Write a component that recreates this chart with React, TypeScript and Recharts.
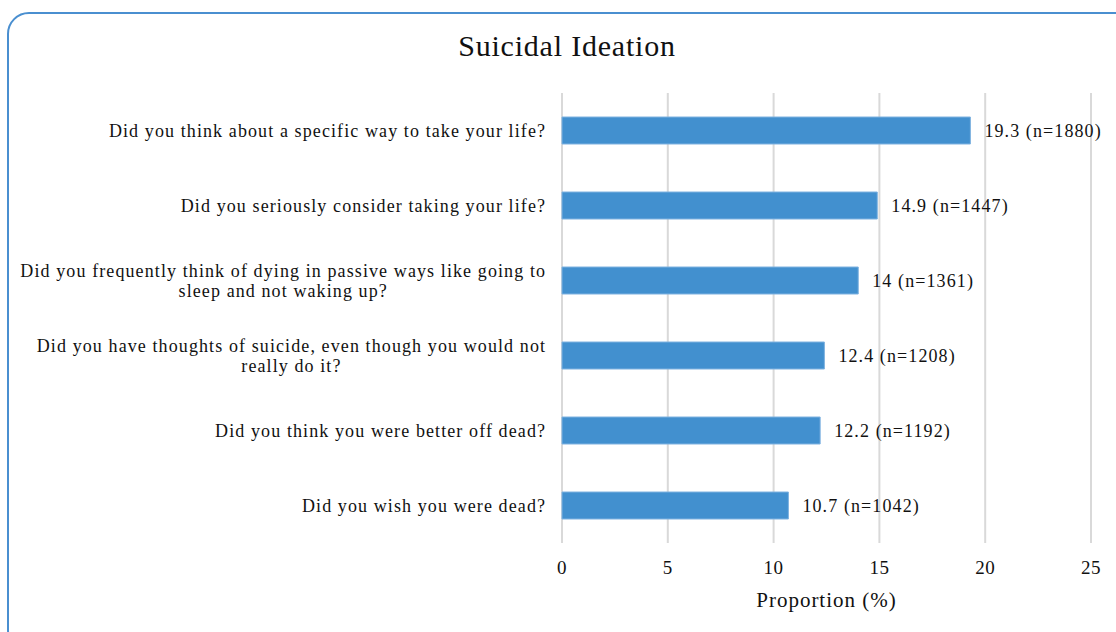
import * as React from 'react';
import { BarChart, Bar, XAxis, YAxis, CartesianGrid, LabelList } from 'recharts';

const questions: string[][] = [
    ['Did you think about a specific way to take your life?'],
    ['Did you seriously consider taking your life?'],
    ['Did you frequently think of dying in passive ways like going to', 'sleep and not waking up?'],
    ['Did you have thoughts of suicide, even though you would not', 'really do it?'],
    ['Did you think you were better off dead?'],
    ['Did you wish you were dead?'],
];
const proportions = [19.3, 14.9, 14, 12.4, 12.2, 10.7];
const counts = [1880, 1447, 1361, 1208, 1192, 1042];
const xTicks = [0, 5, 10, 15, 20, 25];

const data = questions.map((q, i) => ({
    name: q.join(' '),
    lines: q,
    value: proportions[i],
    label: `${proportions[i]} (n=${counts[i]})`,
}));

const FONT = '"Liberation Serif", "Times New Roman", serif';
const LABEL_SIZE = 18;
const SPACING = 1.1;

let ctx: CanvasRenderingContext2D | null = null;
const measure = (s: string) => {
    if (!ctx) ctx = document.createElement('canvas').getContext('2d');
    if (!ctx) return s.length * 8;
    ctx.font = `${LABEL_SIZE}px ${FONT}`;
    return ctx.measureText(s).width + s.length * SPACING;
};

const QuestionTick = (props: any) => {
    const { x, y, payload, index } = props;
    const lines = data[index]?.lines ?? [String(payload.value)];
    const right = x - 9 + SPACING;
    const lh = 20;
    const startY = y - ((lines.length - 1) * lh) / 2;
    const common = { fontFamily: FONT, fontSize: LABEL_SIZE, fill: '#111', letterSpacing: SPACING };
    if (lines.length === 1) {
        return (
            <text x={right} y={y} dy="0.35em" textAnchor="end" {...common}>
                {lines[0]}
            </text>
        );
    }
    const w = Math.max(...lines.map(measure));
    const cx = right - w / 2;
    return (
        <text textAnchor="middle" {...common}>
            {lines.map((l: string, i: number) => (
                <tspan key={i} x={cx} y={startY + i * lh} dy="0.35em">{l}</tspan>
            ))}
        </text>
    );
};

export default function App() {
    return (
        <div style={{ position: 'fixed', left: 0, top: 0, width: 1116, height: 632, overflow: 'hidden', background: '#fff' }}>
            <div style={{
                position: 'absolute', left: 7, top: 12, width: 1130, height: 640,
                border: '2.5px solid #4a8fd0', borderRadius: 22, boxSizing: 'border-box',
            }} />
            <div style={{
                position: 'absolute', left: 0, top: 28, width: 1134, textAlign: 'center',
                fontFamily: FONT, fontSize: 30, letterSpacing: 0.8, color: '#111', lineHeight: '36px',
            }}>
                Suicidal Ideation
            </div>
            <div style={{ position: 'absolute', left: 0, top: 0 }}>
                <BarChart
                    layout="vertical"
                    width={1116}
                    height={632}
                    data={data}
                    margin={{ top: 93, right: 25, bottom: 0, left: 0 }}
                    barCategoryGap={24}
                >
                    <CartesianGrid horizontal={false} vertical stroke="#d9d9d9" strokeWidth={2} />
                    <XAxis
                        type="number"
                        domain={[0, 25]}
                        ticks={xTicks}
                        interval={0}
                        axisLine={false}
                        tickLine={false}
                        tickMargin={12}
                        height={89}
                        tick={{ fontFamily: FONT, fontSize: 19, fill: '#111', letterSpacing: 0.5 }}
                        label={{ value: 'Proportion (%)', position: 'insideBottom', offset: 25, fontFamily: FONT, fontSize: 21, fill: '#111', letterSpacing: 1 }}
                    />
                    <YAxis
                        type="category"
                        dataKey="name"
                        width={562}
                        axisLine={false}
                        tickLine={false}
                        interval={0}
                        tick={<QuestionTick />}
                    />
                    <Bar dataKey="value" fill="#4290cf" stroke="#7fb2e0" strokeWidth={1} barSize={27} isAnimationActive={false}>
                        <LabelList dataKey="label" position="right" offset={14} fontFamily={FONT} fontSize={LABEL_SIZE} fill="#111" letterSpacing={1.1} />
                    </Bar>
                </BarChart>
            </div>
        </div>
    );
}
